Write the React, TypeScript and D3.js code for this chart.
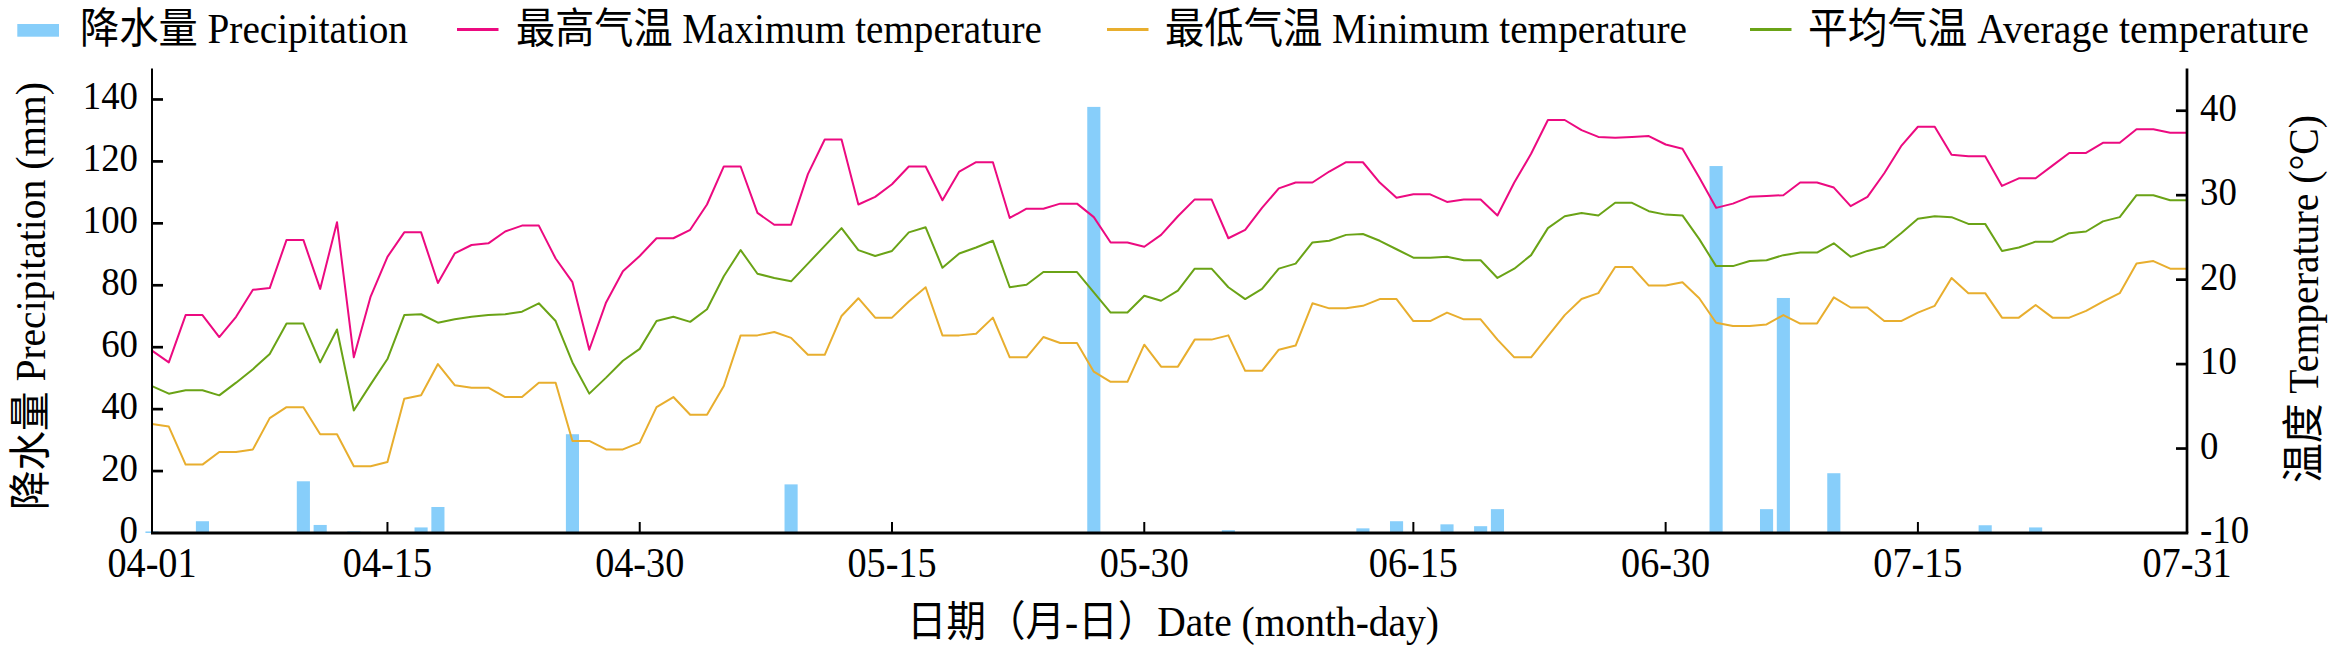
import {useEffect, useRef} from 'react';
import * as d3 from 'd3';

// daily series, 04-01 .. 07-31
const firstDay = '2021-04-01';
const lastDay = '2021-07-31';

const maxTemp = [
  11.6, 10.2, 15.8, 15.8, 13.2, 15.6, 18.8, 19.0, 24.7, 24.7, 18.9, 26.8, 10.8, 18.0, 22.7, 25.6,
  25.6, 19.6, 23.1, 24.1, 24.3, 25.7, 26.4, 26.4, 22.5, 19.7, 11.7, 17.3, 21.0, 22.8, 24.9, 24.9,
  25.9, 28.9, 33.4, 33.4, 27.9, 26.5, 26.5, 32.5, 36.6, 36.6, 28.9, 29.8, 31.3, 33.4, 33.4, 29.4,
  32.8, 33.9, 33.9, 27.3, 28.4, 28.4, 29.0, 29.0, 27.4, 24.4, 24.4, 23.9, 25.3, 27.5, 29.5, 29.5,
  24.9, 25.9, 28.5, 30.8, 31.5, 31.5, 32.8, 33.9, 33.9, 31.5, 29.7, 30.1, 30.1, 29.2, 29.5, 29.5,
  27.6, 31.5, 34.9, 38.9, 38.9, 37.7, 36.9, 36.8, 36.9, 37.0, 36.0, 35.5, 32.1, 28.5, 29.0, 29.8,
  29.9, 30.0, 31.5, 31.5, 30.9, 28.7, 29.8, 32.6, 35.8, 38.1, 38.1, 34.8, 34.6, 34.6, 31.1, 32.0,
  32.0, 33.5, 35.0, 35.0, 36.2, 36.2, 37.8, 37.8, 37.4, 37.4,
];

const minTemp = [
  2.9, 2.6, -1.9, -1.9, -0.4, -0.4, -0.1, 3.6, 4.9, 4.9, 1.7, 1.7, -2.1, -2.1, -1.6, 5.9,
  6.3, 10.0, 7.5, 7.2, 7.2, 6.1, 6.1, 7.8, 7.8, 0.9, 0.9, -0.1, -0.1, 0.7, 4.9, 6.1,
  4.0, 4.0, 7.4, 13.4, 13.4, 13.8, 13.1, 11.1, 11.1, 15.7, 17.8, 15.5, 15.5, 17.4, 19.1, 13.4,
  13.4, 13.6, 15.5, 10.8, 10.8, 13.2, 12.5, 12.5, 9.1, 7.9, 7.9, 12.3, 9.7, 9.7, 12.9, 12.9,
  13.4, 9.2, 9.2, 11.7, 12.2, 17.2, 16.6, 16.6, 16.9, 17.7, 17.7, 15.1, 15.1, 16.1, 15.3, 15.3,
  12.9, 10.8, 10.8, 13.3, 15.8, 17.7, 18.4, 21.5, 21.5, 19.3, 19.3, 19.7, 17.8, 14.9, 14.5, 14.5,
  14.7, 15.8, 14.8, 14.8, 17.9, 16.7, 16.7, 15.1, 15.1, 16.1, 16.9, 20.2, 18.4, 18.4, 15.5, 15.5,
  17.0, 15.5, 15.5, 16.3, 17.4, 18.4, 21.9, 22.2, 21.3, 21.3,
];

const avgTemp = [
  7.4, 6.5, 6.9, 6.9, 6.3, 7.8, 9.4, 11.2, 14.8, 14.8, 10.2, 14.1, 4.5, 7.6, 10.6, 15.8,
  15.9, 14.9, 15.3, 15.6, 15.8, 15.9, 16.2, 17.2, 15.1, 10.2, 6.5, 8.4, 10.4, 11.8, 15.1, 15.6,
  15.0, 16.5, 20.4, 23.5, 20.7, 20.2, 19.8, 21.9, 24.0, 26.1, 23.5, 22.8, 23.4, 25.6, 26.2, 21.4,
  23.1, 23.8, 24.6, 19.1, 19.4, 20.9, 20.9, 20.9, 18.5, 16.1, 16.1, 18.1, 17.5, 18.7, 21.3, 21.3,
  19.1, 17.7, 18.9, 21.3, 21.9, 24.4, 24.6, 25.3, 25.4, 24.6, 23.6, 22.6, 22.6, 22.7, 22.3, 22.3,
  20.2, 21.3, 22.9, 26.1, 27.5, 27.9, 27.6, 29.1, 29.1, 28.1, 27.7, 27.6, 24.8, 21.6, 21.6, 22.2,
  22.3, 22.9, 23.2, 23.2, 24.3, 22.7, 23.4, 23.9, 25.5, 27.2, 27.5, 27.4, 26.6, 26.6, 23.4, 23.8,
  24.5, 24.5, 25.5, 25.7, 26.9, 27.4, 30.0, 30.0, 29.4, 29.4,
];

// rain days only
const rainDays = [
  '04-01', '04-03', '04-04', '04-10', '04-11', '04-13', '04-17', '04-18', '04-26', '05-09',
  '05-21', '05-22', '05-27', '05-30', '06-04', '06-12', '06-14', '06-17', '06-19', '06-20',
  '07-03', '07-06', '07-07', '07-10', '07-19', '07-22',
];
const rainMm = [
  0.5, 0.2, 3.8, 16.7, 2.6, 0.5, 1.8, 8.4, 31.9, 15.7,
  0.3, 0.3, 137.6, 0.3, 0.9, 1.5, 3.8, 2.8, 2.2, 7.7,
  118.5, 7.7, 75.9, 19.3, 2.5, 1.8,
];

const dateTicks = ['04-01', '04-15', '04-30', '05-15', '05-30', '06-15', '06-30', '07-15', '07-31'];
const rainTicks = [0, 20, 40, 60, 80, 100, 120, 140];
const tempTicks = [-10, 0, 10, 20, 30, 40];

const W = 2342;
const H = 663;
const FONT = '"Liberation Serif", "Times New Roman", "Noto Sans CJK SC", serif';
const colors = {
  rain: '#87CEFA',
  max: '#EC0A80',
  min: '#E8AE2E',
  avg: '#6AA316',
  axis: '#000000',
};

export default function App() {
  const svgRef = useRef<SVGSVGElement>(null);

  useEffect(() => {
    if (!svgRef.current) return;
    const svg = d3.select(svgRef.current);
    svg.selectAll('*').remove();

    const parse = d3.timeParse('%Y-%m-%d');
    const year = firstDay.slice(0, 4);
    const md = (s: string) => parse(`${year}-${s}`) as Date;
    const start = parse(firstDay) as Date;
    const end = parse(lastDay) as Date;
    const days = d3.timeDay.range(start, d3.timeDay.offset(end, 1));

    const left = 152;
    const right = 2187;
    const top = 68.5;
    const bottom = 533;

    const x = d3.scaleTime().domain([start, end]).range([left, right]);
    const yRain = d3.scaleLinear().domain([0, 150]).range([bottom, top]);
    const yTemp = d3.scaleLinear().domain([-10, 45]).range([bottom, top]);

    svg.append('rect').attr('width', W).attr('height', H).attr('fill', '#ffffff');

    // squeeze text horizontally, the original type is narrow
    const squeeze = (sel: any, k: number) =>
      sel.each(function (this: SVGTextElement) {
        const w = this.getComputedTextLength();
        d3.select(this).attr('textLength', w * k).attr('lengthAdjust', 'spacingAndGlyphs');
      });
    const fit = (sel: any, w: number) =>
      sel.attr('textLength', w).attr('lengthAdjust', 'spacingAndGlyphs');

    // bars
    const step = x(days[1]) - x(days[0]);
    const barW = step * 0.78;
    svg
      .append('g')
      .selectAll('rect')
      .data(rainDays.map((d, i) => ({date: md(d), v: rainMm[i]})))
      .join('rect')
      .attr('x', (d) => x(d.date) - barW / 2)
      .attr('y', (d) => yRain(d.v))
      .attr('width', barW)
      .attr('height', (d) => bottom - yRain(d.v))
      .attr('fill', colors.rain);

    // temperature lines
    const line = d3
      .line<number>()
      .x((_, i) => x(days[i]))
      .y((d) => yTemp(d));
    const series = [
      {values: maxTemp, color: colors.max},
      {values: minTemp, color: colors.min},
      {values: avgTemp, color: colors.avg},
    ];
    series.forEach((s) => {
      svg
        .append('path')
        .attr('d', line(s.values))
        .attr('fill', 'none')
        .attr('stroke', s.color)
        .attr('stroke-width', 2)
        .attr('stroke-linejoin', 'round');
    });

    // axes
    const ax = svg.append('g').attr('stroke', colors.axis);
    ax.append('line').attr('x1', left).attr('x2', left).attr('y1', top).attr('y2', bottom).attr('stroke-width', 2);
    ax.append('line').attr('x1', right).attr('x2', right).attr('y1', top).attr('y2', bottom).attr('stroke-width', 2.7);
    ax.append('line').attr('x1', left - 1).attr('x2', right + 1.3).attr('y1', bottom).attr('y2', bottom).attr('stroke-width', 3);

    ax.selectAll('.lt')
      .data(rainTicks.slice(1))
      .join('line')
      .attr('x1', left)
      .attr('x2', left + 11)
      .attr('y1', (d) => yRain(d))
      .attr('y2', (d) => yRain(d))
      .attr('stroke-width', 2.7);
    ax.selectAll('.rt')
      .data(tempTicks.slice(1))
      .join('line')
      .attr('x1', right)
      .attr('x2', right - 11)
      .attr('y1', (d) => yTemp(d))
      .attr('y2', (d) => yTemp(d))
      .attr('stroke-width', 2.7);
    ax.selectAll('.bt')
      .data(dateTicks.slice(1, -1))
      .join('line')
      .attr('x1', (d) => x(md(d)))
      .attr('x2', (d) => x(md(d)))
      .attr('y1', bottom)
      .attr('y2', bottom - 11)
      .attr('stroke-width', 2);

    const txt = svg.append('g').attr('font-family', FONT).attr('fill', '#000');

    squeeze(
      txt
        .selectAll('.ll')
        .data(rainTicks)
        .join('text')
        .attr('x', 138)
        .attr('y', (d) => yRain(d) + 10)
        .attr('text-anchor', 'end')
        .attr('font-size', 40)
        .text((d) => d),
      0.92,
    );
    squeeze(
      txt
        .selectAll('.rl')
        .data(tempTicks)
        .join('text')
        .attr('x', 2200)
        .attr('y', (d) => yTemp(d) + 10)
        .attr('text-anchor', 'start')
        .attr('font-size', 40)
        .text((d) => d),
      0.92,
    );
    squeeze(
      txt
        .selectAll('.bl')
        .data(dateTicks)
        .join('text')
        .attr('x', (d) => x(md(d)))
        .attr('y', 577)
        .attr('text-anchor', 'middle')
        .attr('font-size', 42)
        .text((d) => d),
      0.91,
    );

    // axis titles
    fit(
      txt
        .append('text')
        .attr('transform', `translate(45,296) rotate(-90)`)
        .attr('text-anchor', 'middle')
        .attr('font-size', 42)
        .text('降水量 Precipitation (mm)'),
      428,
    );
    fit(
      txt
        .append('text')
        .attr('transform', `translate(2318,299) rotate(-90)`)
        .attr('text-anchor', 'middle')
        .attr('font-size', 42)
        .text('温度 Temperature (°C)'),
      368,
    );
    fit(
      txt
        .append('text')
        .attr('x', 907)
        .attr('y', 636)
        .attr('font-size', 42)
        .text('日期（月-日）Date (month-day)'),
      532,
    );

    // legend
    const legend = svg.append('g').attr('font-family', FONT);
    legend.append('rect').attr('x', 17.3).attr('y', 24).attr('width', 41.7).attr('height', 12.7).attr('fill', colors.rain);
    const legendItems = [
      {label: '降水量 Precipitation', tx: 80, w: 328},
      {label: '最高气温 Maximum temperature', color: colors.max, lx: 457, tx: 516, w: 526},
      {label: '最低气温 Minimum temperature', color: colors.min, lx: 1107, tx: 1165, w: 522},
      {label: '平均气温 Average temperature', color: colors.avg, lx: 1750, tx: 1808, w: 501},
    ];
    legendItems.forEach((d) => {
      if (d.color) {
        legend
          .append('line')
          .attr('x1', d.lx as number)
          .attr('x2', (d.lx as number) + 41.5)
          .attr('y1', 29.5)
          .attr('y2', 29.5)
          .attr('stroke', d.color)
          .attr('stroke-width', 3);
      }
      fit(legend.append('text').attr('x', d.tx).attr('y', 42.5).attr('font-size', 42).text(d.label), d.w);
    });
  }, []);

  return (
    <svg
      ref={svgRef}
      width={W}
      height={H}
      style={{position: 'absolute', left: 0, top: 0, display: 'block'}}
    />
  );
}
